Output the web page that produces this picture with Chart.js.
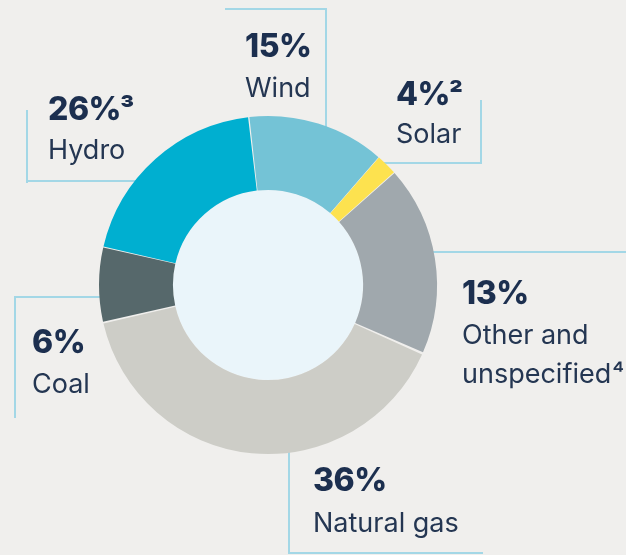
<!DOCTYPE html>
<html>
<head>
<meta charset="utf-8">
<script src="https://cdn.jsdelivr.net/npm/chart.js@4"></script>
<style>
  html, body { margin:0; padding:0; background:#f0efed; }
  #wrap { position:relative; width:626px; height:555px; overflow:hidden; background:#f0efed; font-family:Inter, "Noto Sans", sans-serif; color:#1c2f4f; }
  canvas { position:absolute; left:0; top:0; z-index:2; }
  .ln { position:absolute; background:#a3d7e6; z-index:1; }
  .t { position:absolute; white-space:nowrap; line-height:normal; z-index:3; }
  .p { font-size:32px; font-weight:800; letter-spacing:-0.5px; }
  .l { font-size:27px; font-weight:400; color:#243652; }
  .sup { margin-left:-1px; font-size:30px; }
  .l .sup { margin-left:1px; font-size:26px; }
</style>
</head>
<body>
<div id="wrap">
  <canvas id="c" width="626" height="555"></canvas>
</div>
<script>
// Categories in drawing order (clockwise from the top)
const categories = ['Wind', 'Solar', 'Other and unspecified', 'Natural gas', 'Coal', 'Hydro'];
// Printed percentages (text on the picture)
const percentLabels = ['15%', '4%', '13%', '36%', '6%', '26%'];
// Footnote marks after the percentage
const percentNotes = ['', '\u00B2', '', '', '', '\u00B3'];
const sliceShares = [13.2, 2.0, 18.2, 39.9, 7.1, 19.6];
const sliceColors = ['#74c3d6', '#fde24f', '#a0a8ad', '#cdcdc7', '#56686b', '#00afd0'];
// Label lines shown under each percentage
const nameLines = [['Wind'], ['Solar'], ['Other and', 'unspecified'], ['Natural gas'], ['Coal'], ['Hydro']];
const nameNotes = ['', '', '\u2074', '', '', ''];

// Label placement: left x, baseline of percentage, baseline of first name line
const labelPos = [
  [245, 57, 97],
  [396, 105, 143],
  [462, 304, 344],
  [313, 491, 532],
  [32, 353, 393],
  [48, 120, 159]
];
// Leader lines: [left, top, width, height]
const leaderLines = [
  [225, 8, 102, 2], [325, 8, 2, 125],
  [480, 100, 2, 64], [376, 162, 106, 2],
  [428, 251, 198, 2],
  [288, 445, 2, 109], [288, 552, 195, 2],
  [14, 296, 2, 122], [14, 296, 92, 2],
  [26, 110, 2, 73], [26, 180, 112, 2]
];

const wrap = document.getElementById('wrap');
leaderLines.forEach(([x, y, w, h]) => {
  const d = document.createElement('div');
  d.className = 'ln';
  d.style.left = x + 'px'; d.style.top = y + 'px';
  d.style.width = w + 'px'; d.style.height = h + 'px';
  wrap.appendChild(d);
});
function addNote(el, note) {
  if (!note) return;
  const s = document.createElement('span');
  s.className = 'sup';
  s.textContent = note;
  el.appendChild(s);
}
const ASC = 0.96875;
categories.forEach((c, i) => {
  const [x, pb, lb] = labelPos[i];
  const p = document.createElement('div');
  p.className = 't p';
  p.textContent = percentLabels[i];
  addNote(p, percentNotes[i]);
  p.style.left = x + 'px';
  p.style.top = (pb - ASC * 32) + 'px';
  wrap.appendChild(p);
  nameLines[i].forEach((txt, k) => {
    const l = document.createElement('div');
    l.className = 't l';
    l.textContent = txt;
    if (k === nameLines[i].length - 1) addNote(l, nameNotes[i]);
    l.style.left = x + 'px';
    l.style.top = (lb + k * 39 - ASC * 27) + 'px';
    wrap.appendChild(l);
  });
});

const centerFill = {
  id: 'centerFill',
  beforeDatasetsDraw(chart) {
    const arc = chart.getDatasetMeta(0).data[0];
    if (!arc) return;
    const ctx = chart.ctx;
    ctx.save();
    ctx.beginPath();
    ctx.arc(arc.x, arc.y, arc.innerRadius + 1, 0, Math.PI * 2);
    ctx.fillStyle = '#eaf5fa';
    ctx.fill();
    ctx.restore();
  }
};

new Chart(document.getElementById('c'), {
  type: 'doughnut',
  data: {
    labels: categories,
    datasets: [{
      data: sliceShares,
      backgroundColor: sliceColors,
      borderWidth: 0,
      spacing: 2
    }]
  },
  options: {
    responsive: false,
    animation: false,
    rotation: -6.5,
    cutout: '56%',
    layout: { padding: { left: 99, right: 189, top: 116, bottom: 101 } },
    plugins: { legend: { display: false }, tooltip: { enabled: false } }
  },
  plugins: [centerFill]
});
</script>
</body>
</html>
